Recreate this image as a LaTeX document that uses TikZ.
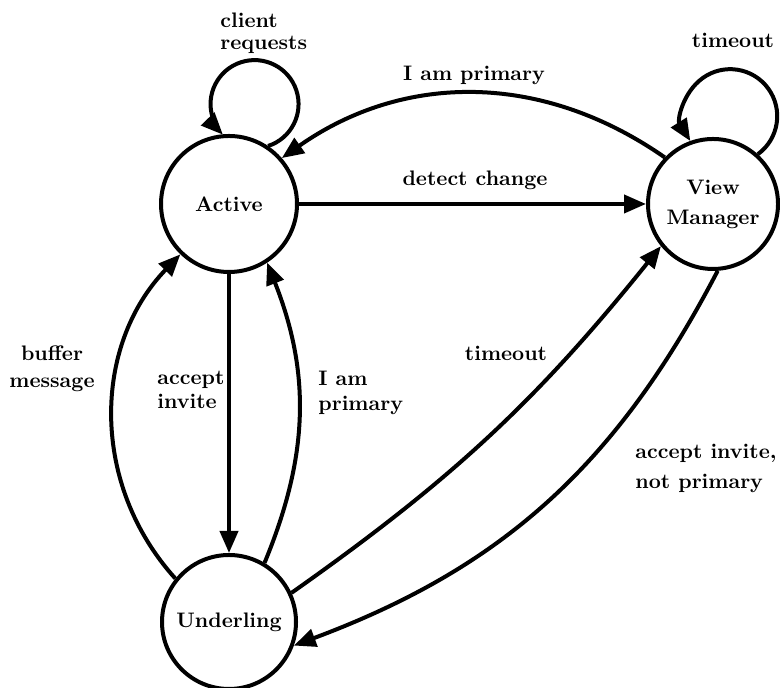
\documentclass[tikz,border=0pt]{standalone}
\usetikzlibrary{arrows.meta}
\begin{document}
\begin{tikzpicture}[x=0.5pt,y=0.5pt,
  state/.style={circle,draw,line width=2pt,inner sep=0pt,align=center,
    font=\fontsize{10.5}{12.5}\selectfont\bfseries},
  trans/.style={line width=2pt,-{Triangle[length=11pt,width=9pt]}},
  lbl/.style={inner sep=0pt,font=\fontsize{10.5}{12.5}\selectfont\bfseries}]
\useasboundingbox (0,0) rectangle (780,688);

% states
\node[state,minimum size=68pt] (active) at (229,484) {Active};
\node[state,minimum size=65pt,font=\fontsize{10.5}{15}\selectfont\bfseries] (vm) at (713,484) {View\\Manager};
\node[state,minimum size=67pt] (under) at (229,66) {Underling};

% self loops
\draw[trans] (active.56) arc[start angle=-72,end angle=224,radius=22pt];
\draw[trans] (vm.48) arc[start angle=-54,end angle=212,radius=23.5pt];

% transitions
\draw[trans] (vm.136) to[bend right=35] (active.41);
\draw[trans] (active) -- (vm);
\draw[trans] (active) -- (under);
\draw[trans] (under.59) to[bend right=22] (active.-57);
\draw[trans] (under.141) to[bend left=43] (active.226);
\draw[trans] (under.25) to[bend right=8] (vm.219);
\draw[trans] (vm.-86) to[bend left=21] (under.-20);

% labels
\node[lbl,align=left,anchor=west,font=\fontsize{10.5}{11}\selectfont\bfseries] (lclient) at (220,655) {client\\requests};
\node[lbl] (ltimeoutvm) at (733,648) {timeout};
\node[lbl] (lprimarytop) at (474,613) {I am primary};
\node[lbl] (lchange) at (475,508) {detect change};
\node[lbl,align=center,font=\fontsize{10.5}{13.5}\selectfont\bfseries] (lbuffer) at (52,319) {buffer\\message};
\node[lbl,align=left,anchor=west,font=\fontsize{10.5}{12}\selectfont\bfseries] (laccept) at (157,298) {accept\\invite};
\node[lbl,align=left,anchor=west] (lprimaryside) at (318,295) {I am\\primary};
\node[lbl] (ltimeoutmid) at (506,335) {timeout};
\node[lbl,align=left,anchor=west,font=\fontsize{10.5}{15}\selectfont\bfseries] (lnotprimary) at (635,220) {accept invite,\\not primary};
\end{tikzpicture}
\end{document}
